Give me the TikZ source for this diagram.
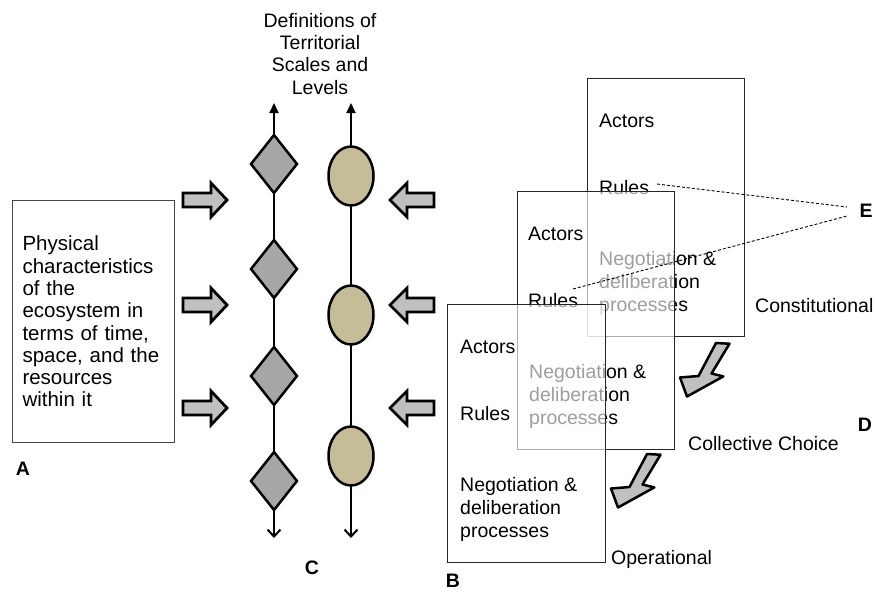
\documentclass[tikz,border=0pt]{standalone}
\usepackage{fontspec}
\setmainfont{Liberation Sans}
\usetikzlibrary{shapes.geometric, arrows.meta}
\definecolor{dgray}{RGB}{166,166,166}
\definecolor{tanfill}{RGB}{196,189,151}
\definecolor{agray}{RGB}{192,192,192}
\definecolor{boxline}{RGB}{70,70,70}
\tikzset{
  txt/.style={font=\fontsize{19.5}{23}\selectfont, inner sep=0, anchor=base west},
  lbl/.style={font=\fontsize{19.5}{23}\selectfont\bfseries, inner sep=0},
  lvl/.style={draw=black!85, line width=1pt, fill=white, minimum width=157pt, minimum height=258pt, anchor=north west, inner sep=0},
  veil/.style={fill opacity=0.62},
  dia/.style={diamond, draw, line width=2.5pt, fill=dgray, minimum width=47pt, minimum height=59pt, inner sep=0, aspect=0.8},
  ell/.style={ellipse, draw, line width=2.5pt, fill=tanfill, minimum width=45pt, minimum height=59pt, inner sep=0},
  blk/.style={draw, line width=2.8pt, fill=agray, line join=miter},
  bolt/.style={draw, line width=2.5pt, fill=agray, line join=round},
  vline/.style={line width=2pt},
  tie/.style={dash pattern=on 3pt off 2pt, line width=0.9pt},
  boltpic/.pic={\draw[bolt] (0,0) -- (13.5,0.7) -- (-4.5,30.5) -- (7.3,33.4) -- (-29,53.5) -- (-36,34.5) -- (-17.5,33) -- cycle;},
}
\begin{document}
\begin{tikzpicture}[x=1pt, y=-1pt]
\useasboundingbox (0,0) rectangle (875,595);

% A: physical characteristics box
\node[draw=boxline, line width=1pt, minimum width=162pt, minimum height=242pt, text width=142pt, inner xsep=10pt, align=left, anchor=north west, font=\fontsize{20.5}{22.3}\selectfont] (boxA) at (12,200)
  {Physical\\characteristics\\of the\\ecosystem in\\terms of time,\\space, and the\\resources\\within it};
\node[lbl] (labA) at (23,469) {A};

% block arrows
\foreach \c in {200,305,408}{
  \draw[blk] (183,\c-7) -- (211,\c-7) -- (211,\c-17) -- (227,\c) -- (211,\c+17) -- (211,\c+7) -- (183,\c+7) -- cycle;
  \draw[blk] (434,\c-7) -- (407,\c-7) -- (407,\c-17) -- (390,\c) -- (407,\c+17) -- (407,\c+7) -- (434,\c+7) -- cycle;
}

% title
\node[inner sep=0, anchor=north, align=center, font=\fontsize{19.5}{22.3}\selectfont] (title) at (320,13)
  {Definitions of\\Territorial\\Scales and\\Levels};

% C: columns
\coordinate (dtop) at (274,103);
\coordinate (dbot) at (274,538);
\coordinate (etop) at (351,103);
\coordinate (ebot) at (351,538);
\draw[vline, {Triangle[length=10pt,width=9pt]}-{Straight Barb[length=7pt,width=13pt]}] (dtop) -- (dbot);
\draw[vline, {Triangle[length=10pt,width=9pt]}-{Straight Barb[length=7pt,width=13pt]}] (etop) -- (ebot);
\node[dia] (d1) at (274,164) {};
\node[dia] (d2) at (274,269) {};
\node[dia] (d3) at (274,376) {};
\node[dia] (d4) at (274,481) {};
\node[ell] (e1) at (351,176) {};
\node[ell] (e2) at (351,315) {};
\node[ell] (e3) at (351,456) {};
\node[lbl] (labC) at (312,568) {C};

% B: levels
\node[lvl] (b3) at (587,78) {};
\node[txt] (b3act) at (599,127) {Actors};
\node[txt] (b3rul) at (599,194) {Rules};
\node[txt] (b3n1) at (599,265) {Negotiation \&};
\node[txt] (b3n2) at (599,288) {deliberation};
\node[txt] (b3n3) at (599,311) {processes};

\node[lvl, veil] (b2) at (517,191) {};
\node[txt] (b2act) at (528,240) {Actors};
\node[txt] (b2rul) at (528,307) {Rules};
\node[txt] (b2n1) at (529,378) {Negotiation \&};
\node[txt] (b2n2) at (529,401) {deliberation};
\node[txt] (b2n3) at (529,424) {processes};

\node[lvl, veil, minimum width=158pt] (b1) at (447,304) {};
\node[txt] (b1act) at (460,353) {Actors};
\node[txt] (b1rul) at (460,420) {Rules};
\node[txt] (b1n1) at (460,491) {Negotiation \&};
\node[txt] (b1n2) at (460,514) {deliberation};
\node[txt] (b1n3) at (460,537) {processes};

\node[txt] (lconst) at (755,312) {Constitutional};
\node[txt] (lcoll) at (688,450) {Collective Choice};
\node[txt] (loper) at (611,564) {Operational};

\pic (bolt1) at (716,343) {boltpic};
\pic (bolt2) at (647,454) {boltpic};

\node[lbl] (labB) at (453,581) {B};
\node[lbl] (labD) at (865,425) {D};
\node[lbl] (labE) at (866,211) {E};

% E: dashed connectors
\coordinate (s1) at (657,184);
\coordinate (s2) at (573,289);
\coordinate (t1) at (847,207);
\coordinate (t2) at (847,216);
\draw[tie] (s1) -- (t1);
\draw[tie] (s2) -- (t2);
\end{tikzpicture}
\end{document}
